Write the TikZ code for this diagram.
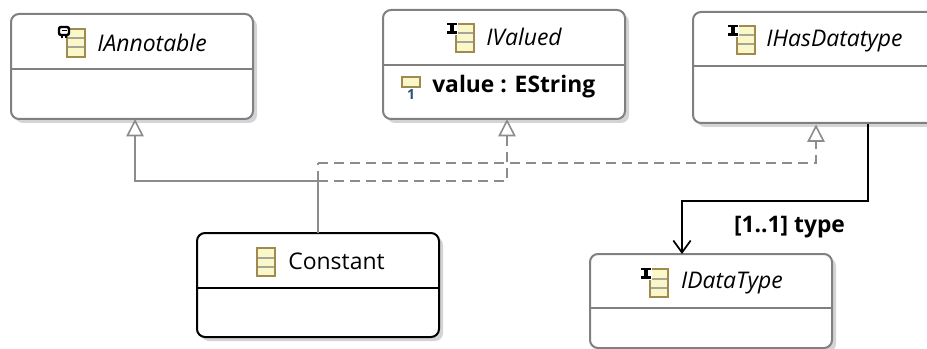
\documentclass[tikz,border=0pt]{standalone}
\usepackage{fontspec}
\setmainfont{Open Sans}
\usetikzlibrary{arrows.meta,shadows}
\definecolor{edge}{HTML}{808080}
\definecolor{connector}{HTML}{8C8C8C}
\definecolor{shadowgrey}{HTML}{D4D4D8}
\definecolor{iconfill}{HTML}{FAF8C8}
\definecolor{iconedge}{HTML}{A08A50}
\definecolor{iconbar}{HTML}{A5A598}
\definecolor{mult}{HTML}{2F4F7F}
\tikzset{
  classbox/.style={draw=edge,line width=1.5pt,fill=white,rounded corners=6pt,anchor=north west,
    inner sep=0pt,outer sep=0pt,minimum width=181.5pt,
    drop shadow={shadow xshift=3pt,shadow yshift=-3pt,fill=shadowgrey,opacity=1}},
  activebox/.style={classbox,draw=black},
  divider/.style={draw=edge,line width=1.5pt},
  activedivider/.style={draw=black,line width=1.5pt},
  title/.style={font=\fontsize{17.2}{20}\selectfont\itshape,inner sep=0pt},
  plaintitle/.style={font=\fontsize{17.2}{20}\selectfont,inner sep=0pt},
  boldtext/.style={font=\fontsize{17.1}{20}\selectfont\bfseries,inner sep=0pt},
  general/.style={draw=connector,line width=1.4pt},
  realize/.style={general,dash pattern=on 7.5pt off 4.5pt},
  tip/.style={-{Triangle[open,fill=white,length=13pt,width=13pt,line width=1.2pt]}},
  ref/.style={draw=black,line width=1.5pt},
  classicon/.pic={
    \draw[fill=iconfill,draw=iconedge,line width=1.4pt] (0,0) rectangle (18,28);
    \draw[iconbar,line width=1.5pt] (1,9.5) -- (17,9.5) (1,18.5) -- (17,18.5);
  },
  tagicon/.pic={
    \fill[white] (-10,-2) rectangle (2,11);
    \draw[black,line width=2pt] (-9,0) -- (1,0) (-9,8.5) -- (1,8.5);
    \draw[black,line width=2.6pt] (-4,0) -- (-4,8.5);
  },
  annoticon/.pic={
    \draw[fill=white,draw=black,line width=1.8pt,rounded corners=1.5pt] (-8,-2) rectangle (2,6);
    \draw[black,line width=1.2pt] (-5.5,1.5) -- (-0.5,1.5);
    \draw[black,line width=1.5pt] (-5,6) -- (-5,9.5) (-1,6) -- (-1,9.5);
  },
  attricon/.pic={
    \draw[fill=iconfill,draw=iconedge,line width=1.5pt] (0,0) rectangle (18,10);
    \node[font=\fontsize{10.5}{11}\selectfont\bfseries,text=mult,inner sep=0pt] (attrmult) at (9,17.5) {1};
  },
}
\begin{document}
\begin{tikzpicture}[x=0.75pt,y=-0.75pt]
\useasboundingbox (0,0) rectangle (927,349);
\clip (0,0) rectangle (927,349);
\node[classbox,minimum height=78.75pt] (annot) at (11,14) {};
\node[classbox,minimum height=81.75pt] (valued) at (383,10) {};
\node[classbox,minimum height=83.25pt] (hasdt) at (693,12) {};
\node[activebox,minimum height=78pt] (const) at (197,233) {};
\node[classbox,minimum height=70.5pt] (dtype) at (590,254) {};

\draw[divider] (annot.west |- 0,69) -- (annot.east |- 0,69);
\draw[divider] (valued.west |- 0,65) -- (valued.east |- 0,65);
\draw[divider] (hasdt.west |- 0,66) -- (hasdt.east |- 0,66);
\draw[activedivider] (const.west |- 0,288) -- (const.east |- 0,288);
\draw[divider] (dtype.west |- 0,308) -- (dtype.east |- 0,308);

\pic at (67,29) {classicon}; \pic at (67,29) {annoticon};
\pic at (456,24) {classicon}; \pic at (456,24) {tagicon};
\pic at (737,26) {classicon}; \pic at (737,26) {tagicon};
\pic at (257,248) {classicon};
\pic at (650,269) {classicon}; \pic at (650,269) {tagicon};
\pic at (402,77) {attricon};

\node[title] (t1) at (152,43) {IAnnotable};
\node[title] (t2) at (524,37) {IValued};
\node[title] (t3) at (834.5,41) {IHasDatatype};
\node[plaintitle] (t4) at (336.5,261) {Constant};
\node[title] (t5) at (732,283) {IDataType};
\node[boldtext,anchor=west] (attr) at (432,87) {value : EString};
\node[boldtext] (lbl) at (789.5,227) {[1..1] type};

\coordinate (bendA) at (318,181);
\coordinate (bendB) at (318,163);
\coordinate (tipC) at (816,124.5);
\draw[general] (const.north) -- (bendA);
\draw[general,tip] (bendA) -| ([xshift=2.25pt]annot.south);
\draw[realize] (bendA) -- (bendB);
\draw[realize,tip] (bendA) -| ([xshift=2.25pt]valued.south);
\draw[realize,tip] (bendB) -| (tipC);
\coordinate (refStart) at (868,124);
\coordinate (refBend) at (868,201);
\draw[ref,-{Straight Barb[length=9pt,width=13pt,line width=1.3pt]}] (refStart) -- (refBend) -| (dtype.north -| 682,0);
\end{tikzpicture}
\end{document}
